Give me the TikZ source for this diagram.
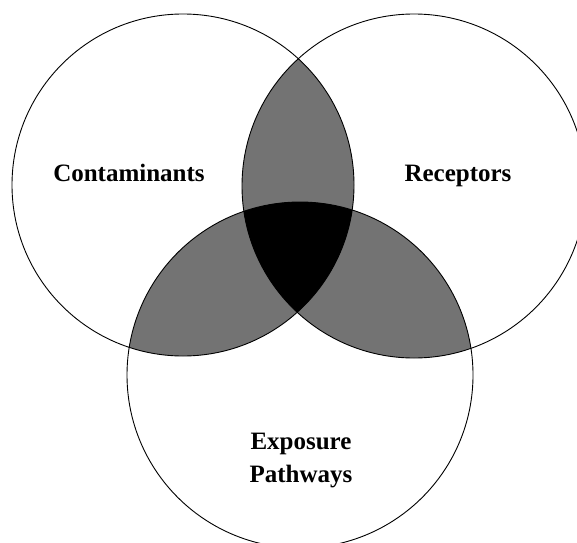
\documentclass[tikz,border=0pt]{standalone}
\usepackage{fontspec}
\setmainfont{Liberation Serif}
\begin{document}
\begin{tikzpicture}[x=1pt,y=1pt,
  lbl/.style={anchor=base,inner sep=0pt,font=\fontsize{25}{30}\selectfont\bfseries},
  ring/.style={draw=black,line width=0.9pt},
  lens/.style={fill=black!55},
  core/.style={fill=black}]
\useasboundingbox (0,0) rectangle (577,542);
\coordinate (cL) at (183,357);
\coordinate (cR) at (414,356);
\coordinate (cB) at (300,167);
% pairwise overlaps
\begin{scope}
  \clip (cL) circle[radius=171pt];
  \fill[lens] (cR) circle[radius=172pt];
  \fill[lens] (cB) circle[radius=173pt];
\end{scope}
\begin{scope}
  \clip (cR) circle[radius=172pt];
  \fill[lens] (cB) circle[radius=173pt];
\end{scope}
% triple overlap
\begin{scope}
  \clip (cL) circle[radius=171pt];
  \clip (cR) circle[radius=172pt];
  \fill[core] (cB) circle[radius=173pt];
\end{scope}
% outlines
\draw[ring] (cL) circle[radius=171pt];
\draw[ring] (cR) circle[radius=172pt];
\draw[ring] (cB) circle[radius=173pt];
% labels
\node[lbl] (cont) at (129,361) {Contaminants};
\node[lbl] (rec) at (458,361) {Receptors};
\node[lbl] (exp) at (301,93) {Exposure};
\node[lbl] (path) at (301,60) {Pathways};
\end{tikzpicture}
\end{document}
